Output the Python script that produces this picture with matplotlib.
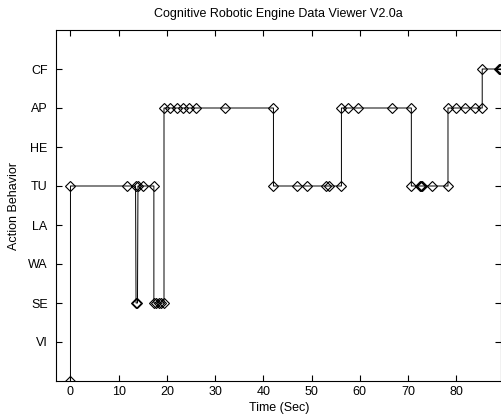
import matplotlib.pyplot as plt

plt.rcParams["font.family"] = ["Liberation Sans", "DejaVu Sans"]

# behaviour codes, bottom to top (0 = no behaviour yet)
behaviors = ["VI", "SE", "WA", "LA", "TU", "HE", "AP", "CF"]

# time stamps (s) and behaviour level of each logged sample
time_sec = [0.0, 0.0, 11.7, 13.5, 13.6, 13.9, 14.0, 15.0, 17.3, 17.3,
            17.8, 18.3, 18.8, 19.4, 19.4, 20.7, 22.0, 23.3, 24.6, 26.0,
            32.1, 42.1, 42.1, 47.0, 49.0, 52.9, 53.7, 56.2, 56.2, 57.5,
            59.7, 66.7, 70.7, 70.7, 72.4, 72.7, 73.0, 74.9, 78.3, 78.3,
            80.0, 81.9, 83.9, 85.4, 85.4, 88.8, 89.1, 89.4]
level = [0, 5, 5, 5, 2, 2, 5, 5, 5, 2,
         2, 2, 2, 2, 7, 7, 7, 7, 7, 7,
         7, 7, 5, 5, 5, 5, 5, 5, 7, 7,
         7, 7, 7, 5, 5, 5, 5, 5, 5, 7,
         7, 7, 7, 7, 8, 8, 8, 8]

fig = plt.figure(figsize=(5.02, 4.18), dpi=100)
ax = fig.add_axes([56 / 502, 37 / 418, 445.5 / 502, 351 / 418])

ax.plot(time_sec, level, color="black", linewidth=0.7,
        marker="D", markersize=5.5, markerfacecolor="none",
        markeredgecolor="black", markeredgewidth=0.8)

ax.set_xlim(-3, 89.4)
ax.set_ylim(0, 9)
ax.set_xticks(range(0, 90, 10))
ax.set_yticks(range(1, 9))
ax.set_yticklabels(behaviors)
ax.tick_params(direction="in", top=True, right=True, labelsize=9, length=4)
ax.tick_params(axis="y", pad=6)
for s in ax.spines.values():
    s.set_linewidth(0.8)

ax.set_title("Cognitive Robotic Engine Data Viewer V2.0a", fontsize=9, pad=9)
ax.set_xlabel("Time (Sec)", fontsize=9, labelpad=3)
ax.set_ylabel("Action Behavior", fontsize=9, labelpad=6)

fig.savefig("out.png", dpi=100)
